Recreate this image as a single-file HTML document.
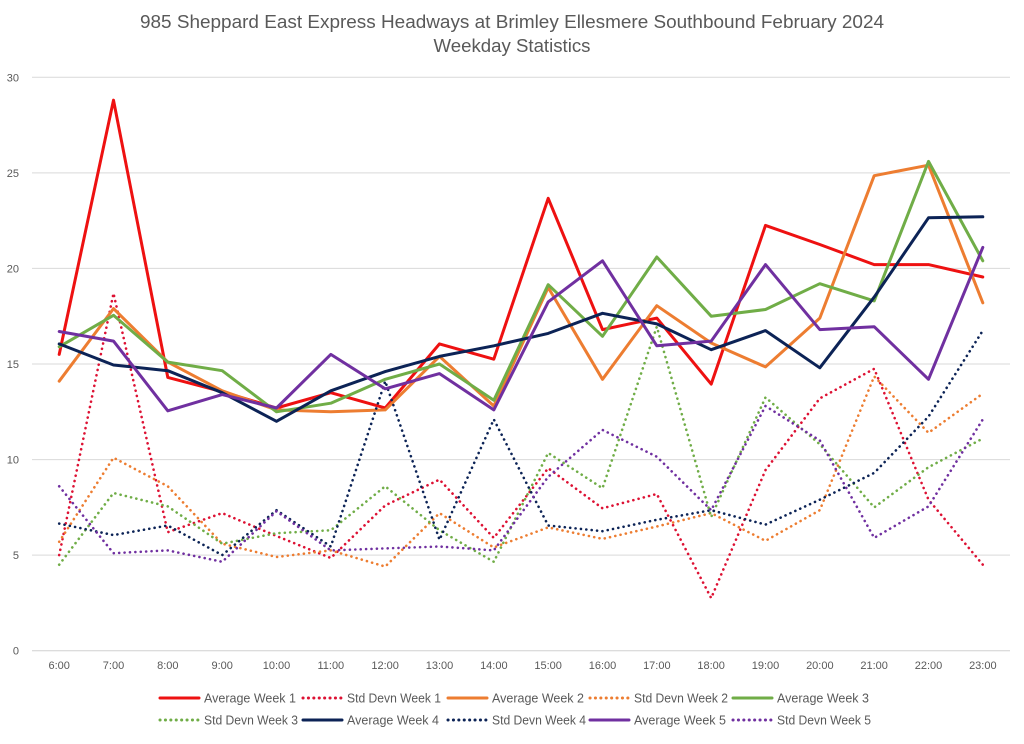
<!DOCTYPE html>
<html><head><meta charset="utf-8"><style>
body{margin:0;background:#fff;font-family:"Liberation Sans",sans-serif;}
svg text{font-family:"Liberation Sans",sans-serif;fill:#595959;}
</style></head><body>
<svg id="chart" width="1024" height="739" viewBox="0 0 1024 739" xmlns="http://www.w3.org/2000/svg">
<text x="512" y="28" font-size="18" text-anchor="middle" textLength="744" lengthAdjust="spacingAndGlyphs">985 Sheppard East Express Headways at Brimley Ellesmere Southbound February 2024</text>
<text x="512" y="52" font-size="18" text-anchor="middle" textLength="157" lengthAdjust="spacingAndGlyphs">Weekday Statistics</text>
<g id="grid"></g><g id="series"></g><g id="legend"></g>
</svg>
<script>
const categories=["6:00","7:00","8:00","9:00","10:00","11:00","12:00","13:00","14:00","15:00","16:00","17:00","18:00","19:00","20:00","21:00","22:00","23:00"];
const yTicks=[0,5,10,15,20,25,30];
const avgWeek1=[15.5,28.8,14.3,13.55,12.7,13.5,12.7,16.05,15.25,23.67,16.8,17.4,13.95,22.25,21.25,20.2,20.2,19.55];
const stdWeek1=[5.0,18.7,6.2,7.2,6.0,4.85,7.6,8.95,5.9,9.55,7.45,8.2,2.75,9.45,13.2,14.75,7.9,4.5];
const avgWeek2=[14.1,17.9,15.1,13.6,12.6,12.5,12.6,15.4,12.8,19.0,14.2,18.05,16.1,14.85,17.4,24.85,25.4,18.2];
const stdWeek2=[5.7,10.1,8.6,5.6,4.9,5.25,4.4,7.2,5.4,6.45,5.85,6.5,7.2,5.75,7.35,14.35,11.4,13.45];
const avgWeek3=[15.9,17.55,15.1,14.65,12.5,12.95,14.2,15.0,13.1,19.15,16.45,20.6,17.5,17.85,19.2,18.3,25.6,20.4];
const stdWeek3=[4.5,8.25,7.55,5.6,6.15,6.3,8.6,6.3,4.65,10.35,8.5,16.95,7.0,13.25,10.8,7.5,9.6,11.1];
const avgWeek4=[16.05,14.95,14.65,13.5,12.0,13.6,14.6,15.4,15.95,16.6,17.65,17.1,15.75,16.75,14.8,18.5,22.65,22.7];
const stdWeek4=[6.65,6.05,6.55,5.0,7.35,5.45,14.1,5.8,12.1,6.55,6.25,6.85,7.35,6.6,7.9,9.3,12.25,16.75];
const avgWeek5=[16.7,16.2,12.55,13.4,12.7,15.5,13.7,14.5,12.6,18.25,20.4,15.95,16.2,20.2,16.8,16.95,14.2,21.1];
const stdWeek5=[8.6,5.1,5.25,4.65,7.3,5.25,5.35,5.45,5.25,9.1,11.55,10.15,7.35,12.8,11.0,5.9,7.55,12.1];
const seriesNames=["Average Week 1","Std Devn Week 1","Average Week 2","Std Devn Week 2","Average Week 3","Std Devn Week 3","Average Week 4","Std Devn Week 4","Average Week 5","Std Devn Week 5"];
const seriesData=[avgWeek1,stdWeek1,avgWeek2,stdWeek2,avgWeek3,stdWeek3,avgWeek4,stdWeek4,avgWeek5,stdWeek5];
const colors=["#ee1111","#dd1133","#ed7d31","#ed7d31","#70ad47","#70ad47","#0c2356","#0c2356","#7030a0","#7030a0"];
const NS="http://www.w3.org/2000/svg";
const L=32,R=1010,T=77.3,B=650.7,YMAX=30;
const step=(R-L)/categories.length;
function xs(i){return L+step*(i+0.5);}
function ys(v){return B-(v/YMAX)*(B-T);}
function mk(tag,attrs,parent){const e=document.createElementNS(NS,tag);for(const k in attrs)e.setAttribute(k,attrs[k]);parent.appendChild(e);return e;}
const grid=document.getElementById('grid');
yTicks.forEach(t=>{
  const l=mk('line',{x1:L,x2:R,y1:ys(t),y2:ys(t),stroke:t===0?'#d0d0d0':'#d9d9d9','stroke-width':1},grid);
  
  
  const tx=mk('text',{x:19,y:ys(t)+4,'font-size':11,'text-anchor':'end'},grid);
  tx.textContent=t;
  
  
});
categories.forEach((c,i)=>{
  const tx=mk('text',{x:xs(i),y:669,'font-size':11,'text-anchor':'middle'},grid);
  tx.textContent=c;
  
  
});
const sg=document.getElementById('series');
seriesData.forEach((d,s)=>{
  const dotted=s%2===1;
  const pts=d.map((v,i)=>xs(i).toFixed(1)+','+ys(v).toFixed(1)).join(' ');
  const p=mk('polyline',{points:pts,fill:'none',stroke:colors[s],'stroke-width':dotted?2.6:3,'stroke-linejoin':'round','stroke-linecap':'round'},sg);
  if(dotted){p.setAttribute('stroke-dasharray','0.1 5.3');}
  
  
});
const lg=document.getElementById('legend');
const lx=[159,302,447,589,732];
seriesNames.forEach((n,s)=>{
  const row=Math.floor(s/5),col=s%5;
  const x=lx[col],y=698+row*22;
  const dotted=s%2===1;
  const g=mk('g',{},lg);
  
  
  const l=mk('line',{x1:x+1,x2:x+40,y1:y,y2:y,stroke:colors[s],'stroke-width':3,'stroke-linecap':'round'},g);
  if(dotted){l.setAttribute('stroke-dasharray','0.1 5.3');}
  const t=mk('text',{x:x+45,y:y+4.5,'font-size':13,textLength:dotted?94:92,lengthAdjust:'spacingAndGlyphs'},g);
  t.textContent=n;
});
</script>
</body></html>
